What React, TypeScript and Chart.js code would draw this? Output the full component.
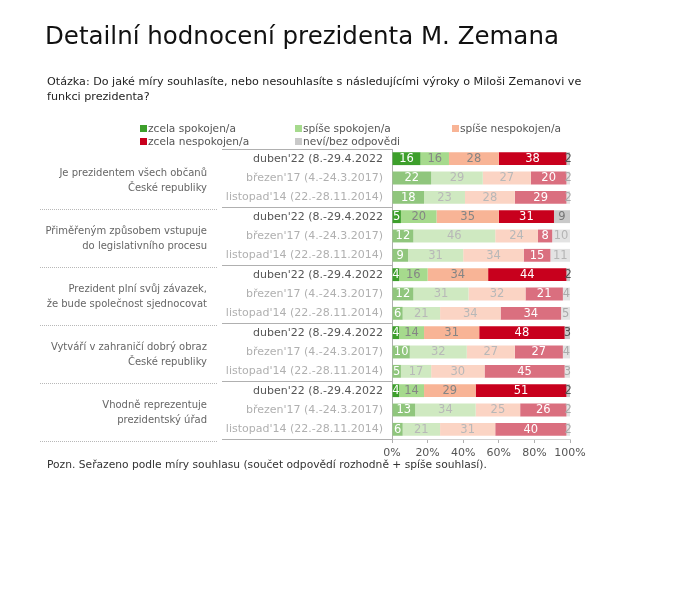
import React, { useEffect, useRef } from "react";
import { Chart, registerables } from "chart.js";

Chart.register(...registerables);

const titleText = "Detailní hodnocení prezidenta M. Zemana";
const questionLines = [
  "Otázka: Do jaké míry souhlasíte, nebo nesouhlasíte s následujícími výroky o Miloši Zemanovi ve",
  "funkci prezidenta?",
];
const footnote = "Pozn. Seřazeno podle míry souhlasu (součet odpovědí rozhodně + spíše souhlasí).";

const groupLabels = [
  ["Je prezidentem všech občanů", "České republiky"],
  ["Přiměřeným způsobem vstupuje", "do legislativního procesu"],
  ["Prezident plní svůj závazek,", "že bude společnost sjednocovat"],
  ["Vytváří v zahraničí dobrý obraz", "České republiky"],
  ["Vhodně reprezentuje", "prezidentský úřad"],
];
const waves = ["duben'22 (8.-29.4.2022", "březen'17 (4.-24.3.2017)", "listopad'14 (22.-28.11.2014)"];

const seriesNames = [
  "zcela spokojen/a",
  "spíše spokojen/a",
  "spíše nespokojen/a",
  "zcela nespokojen/a",
  "neví/bez odpovědi",
];
const zcelaSpokojen = [16, 22, 18, 5, 12, 9, 4, 12, 6, 4, 10, 5, 4, 13, 6];
const spiseSpokojen = [16, 29, 23, 20, 46, 31, 16, 31, 21, 14, 32, 17, 14, 34, 21];
const spiseNespokojen = [28, 27, 28, 35, 24, 34, 34, 32, 34, 31, 27, 30, 29, 25, 31];
const zcelaNespokojen = [38, 20, 29, 31, 8, 15, 44, 21, 34, 48, 27, 45, 51, 26, 40];
const nevi = [2, 2, 2, 9, 10, 11, 2, 4, 5, 3, 4, 3, 2, 2, 2];
const xTicks = [0, 20, 40, 60, 80, 100];

const strongColors = ["#3d9f2b", "#a6da8d", "#f8b496", "#c8001d", "#c9c9c9"];
const lightColors = ["#90c67d", "#cfe9c1", "#fbd4c4", "#da6f7f", "#e3e3e3"];
const legendColors = strongColors;

const FONT = '"DejaVu Sans", Verdana, sans-serif';

export default function App() {
  const ref = useRef<HTMLCanvasElement | null>(null);

  useEffect(() => {
    if (!ref.current) return;
    const labels: string[] = [];
    groupLabels.forEach(() => waves.forEach((w) => labels.push(w)));
    const all = [zcelaSpokojen, spiseSpokojen, spiseNespokojen, zcelaNespokojen, nevi];

    const datasets = all.map((d, i) => ({
      label: seriesNames[i],
      data: d,
      backgroundColor: d.map((_, j) => (j % 3 === 0 ? strongColors[i] : lightColors[i])),
      borderWidth: 0,
      barPercentage: 0.7,
      categoryPercentage: 0.95,
    }));

    const valuePlugin = {
      id: "valueLabels",
      afterDatasetsDraw(chart: any) {
        const ctx = chart.ctx;
        ctx.save();
        ctx.font = `11.5px ${FONT}`;
        ctx.textAlign = "center";
        ctx.textBaseline = "middle";
        chart.data.datasets.forEach((ds: any, i: number) => {
          const meta = chart.getDatasetMeta(i);
          meta.data.forEach((el: any, j: number) => {
            const v = ds.data[j];
            if (!v) return;
            const strong = j % 3 === 0;
            let color;
            if (i === 0 || i === 3) color = "#ffffff";
            else if (i === 4) color = strong ? "#777777" : "#b5b5b5";
            else color = strong ? "#858585" : "#b8b8b8";
            if (i === 4 && v <= 5) color = strong ? "#555555" : "#aaaaaa";
            const cx = (el.x + el.base) / 2;
            ctx.fillStyle = color;
            ctx.fillText(String(v), cx, el.y + 0.5);
          });
        });
        ctx.restore();
      },
    };

    const groupPlugin = {
      id: "groupLabels",
      afterDraw(chart: any) {
        const ctx = chart.ctx;
        const y = chart.scales.y;
        const ca = chart.chartArea;
        const step = (ca.bottom - ca.top) / 15;
        ctx.save();
        ctx.strokeStyle = "#b0b0b0";
        ctx.lineWidth = 1;
        ctx.beginPath();
        ctx.moveTo(222, Math.round(ca.top) + 0.5);
        ctx.lineTo(ca.left, Math.round(ca.top) + 0.5);
        ctx.stroke();
        groupLabels.forEach((lines, g) => {
          const bottom = ca.top + step * 3 * (g + 1);
          const by = Math.round(bottom) + 0.5;
          ctx.strokeStyle = "#b0b0b0";
          ctx.setLineDash([]);
          ctx.beginPath();
          ctx.moveTo(222, by);
          ctx.lineTo(ca.left, by);
          ctx.stroke();
          ctx.strokeStyle = "#b8b8b8";
          ctx.setLineDash([1, 1]);
          ctx.beginPath();
          ctx.moveTo(40, by + 2);
          ctx.lineTo(218, by + 2);
          ctx.stroke();
          ctx.setLineDash([]);
          const mid = y.getPixelForValue(g * 3 + 1) + 3;
          ctx.font = `10px ${FONT}`;
          ctx.fillStyle = "#666666";
          ctx.textAlign = "right";
          ctx.textBaseline = "middle";
          ctx.fillText(lines[0], 207, mid - 7.5);
          ctx.fillText(lines[1], 207, mid + 7.5);
        });
        ctx.restore();
      },
    };

    const chart = new Chart(ref.current, {
      type: "bar",
      data: { labels, datasets },
      options: {
        animation: false,
        responsive: false,
        indexAxis: "y",
        layout: { padding: { top: 149, right: 112, bottom: 132, left: 0 } },
        plugins: { legend: { display: false }, tooltip: { enabled: false }, title: { display: false } },
        scales: {
          x: {
            stacked: true,
            min: 0,
            max: 100,
            afterBuildTicks: (s: any) => {
              s.ticks = xTicks.map((v) => ({ value: v }));
            },
            afterFit: (s: any) => {
              s.height = 30;
            },
            grid: { drawOnChartArea: false, drawTicks: true, tickLength: 4, color: "#b0b0b0" },
            border: { display: true, color: "#d0d0d0" },
            ticks: {
              color: "#555555",
              font: { family: FONT, size: 11 },
              padding: 4,
              maxRotation: 0,
              callback: (v: any) => `${v}%`,
            },
          },
          y: {
            stacked: true,
            afterFit: (s: any) => {
              s.width = 392;
            },
            grid: { display: false, drawTicks: false },
            border: { display: true, color: "#b0b0b0" },
            ticks: {
              padding: 9,
              autoSkip: false,
              font: { family: FONT, size: 11 },
              color: (c: any) => (c.index % 3 === 0 ? "#555555" : "#b0b0b0"),
            },
          },
        },
      },
      plugins: [valuePlugin, groupPlugin],
    } as any);
    return () => chart.destroy();
  }, []);

  const legendPos = [
    [140, 128],
    [295, 128],
    [452, 128],
    [140, 141],
    [295, 141],
  ];

  return (
    <div
      style={{
        position: "absolute",
        left: 0,
        top: 0,
        width: 682,
        height: 601,
        background: "#ffffff",
        fontFamily: FONT,
        overflow: "hidden",
      }}
    >
      <canvas ref={ref} width={682} height={601} style={{ position: "absolute", left: 0, top: 0, width: 682, height: 601 }} />
      <div style={{ position: "absolute", left: 45, top: 21, fontSize: 24.5, color: "#111", whiteSpace: "nowrap", lineHeight: "30px" }}>
        {titleText}
      </div>
      <div style={{ position: "absolute", left: 47, top: 74, fontSize: 11.15, color: "#222", whiteSpace: "nowrap", lineHeight: "15px" }}>
        {questionLines.map((l, i) => (
          <div key={i}>{l}</div>
        ))}
      </div>
      {seriesNames.map((n, i) => (
        <div
          key={n}
          style={{
            position: "absolute",
            left: legendPos[i][0],
            top: legendPos[i][1] - 7,
            height: 14,
            display: "flex",
            alignItems: "center",
            fontSize: 10.6,
            color: "#555",
            whiteSpace: "nowrap",
          }}
        >
          <span style={{ display: "inline-block", width: 7, height: 7, background: legendColors[i], marginRight: 1 }} />
          {n}
        </div>
      ))}
      <div style={{ position: "absolute", left: 47, top: 457, fontSize: 10.7, color: "#333", whiteSpace: "nowrap", lineHeight: "15px" }}>
        {footnote}
      </div>
    </div>
  );
}
